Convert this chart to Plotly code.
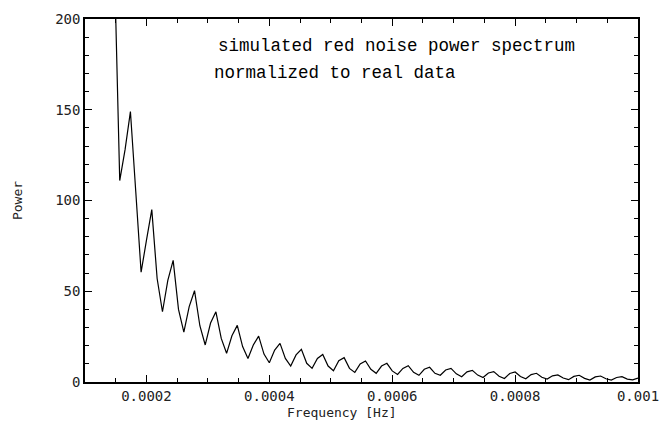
import plotly.graph_objects as go

# Frequency bin index (df = 1/115000 Hz) and power values
df_hz = 1.0 / 115000.0
bin_index = list(range(17, 116))
power = [
    231, 111, 128, 149, 105, 60.5, 78, 95, 57, 38.7,
    56, 67, 40, 27.5, 41.5, 50.3, 31, 20.4, 32.5, 38.7,
    24, 15.8, 25.5, 31.2, 19.5, 13.0, 20.4, 25.3, 15.4, 10.6,
    17.6, 21.3, 13.0, 8.8, 14.9, 18.0, 10.3, 7.5, 13.0, 15.2,
    8.8, 6.2, 11.7, 13.4, 7.5, 5.3, 9.9, 11.6, 7.0, 4.8,
    8.8, 10.3, 6.1, 4.2, 7.5, 9.0, 5.3, 3.7, 7.0, 8.1,
    4.8, 3.7, 6.6, 7.5, 4.5, 2.9, 5.6, 6.4, 3.8, 2.5,
    5.0, 5.7, 3.2, 1.9, 4.7, 5.5, 3.0, 1.8, 4.1, 4.8,
    2.6, 1.6, 3.4, 3.9, 2.2, 1.3, 3.1, 3.7, 2.0, 1.1,
    2.8, 3.3, 1.8, 1.1, 2.5, 2.9, 1.6, 1.2, 2.2,
]
frequency = [k * df_hz for k in bin_index]

x_tickvals = [0.0002, 0.0004, 0.0006, 0.0008, 0.001]
x_ticktext = ["0.0002", "0.0004", "0.0006", "0.0008", "0.001"]
y_tickvals = [0, 50, 100, 150, 200]
y_ticktext = ["0", "50", "100", "150", "200"]

FONT = "DejaVu Sans Mono"

fig = go.Figure()
fig.add_trace(go.Scatter(
    x=frequency, y=power, mode="lines",
    line=dict(color="black", width=1.2),
    showlegend=False,
))

axis_common = dict(
    showgrid=False, zeroline=False, showline=True, linecolor="black",
    linewidth=1.5, mirror="allticks", ticks="inside", ticklen=7,
    tickwidth=1.2, tickcolor="black", automargin=False,
    tickfont=dict(family=FONT, size=14, color="#222"),
)

fig.update_xaxes(
    range=[0.0001, 0.001], tickmode="array",
    tickvals=x_tickvals, ticktext=x_ticktext,
    minor=dict(ticks="inside", ticklen=4, dtick=0.00005, tick0=0,
               tickcolor="black", tickwidth=1),
    **axis_common,
)
fig.update_yaxes(
    range=[0, 200], tickmode="array",
    tickvals=y_tickvals, ticktext=y_ticktext,
    minor=dict(ticks="inside", ticklen=4, dtick=10, tick0=0,
               tickcolor="black", tickwidth=1),
    title=dict(text="Power", font=dict(family=FONT, size=13, color="#222"),
               standoff=30),
    **axis_common,
)

# x-axis title (placed slightly left of centre, as in the original)
fig.add_annotation(x=0.465, y=-0.083, xref="paper", yref="paper",
                   text="Frequency [Hz]", showarrow=False,
                   xanchor="center", yanchor="middle",
                   font=dict(family=FONT, size=13, color="#222"))

fig.add_annotation(x=0.0003137, y=185, xref="x", yref="y",
                   text="simulated red noise power spectrum",
                   showarrow=False, xanchor="left", yanchor="middle",
                   font=dict(family="Liberation Mono", size=17.5, color="black"))
fig.add_annotation(x=0.0003072, y=170, xref="x", yref="y",
                   text="normalized to real data",
                   showarrow=False, xanchor="left", yanchor="middle",
                   font=dict(family="Liberation Mono", size=17.5, color="black"))

fig.update_layout(
    width=661, height=421,
    margin=dict(l=85, r=23, t=19, b=39),
    paper_bgcolor="white", plot_bgcolor="white",
)

fig.write_html("out.html")
